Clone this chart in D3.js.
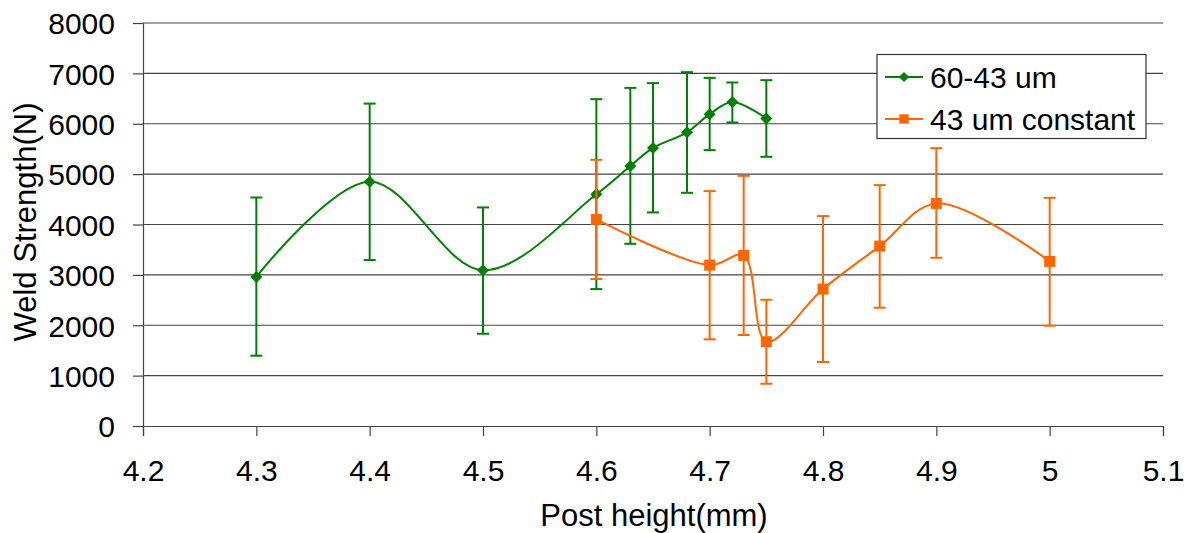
<!DOCTYPE html>
<html><head><meta charset="utf-8">
<script src="https://cdn.jsdelivr.net/npm/d3@7"></script>
<style>body{margin:0;background:#fff}svg text{font-family:"Liberation Sans",Arial,sans-serif;fill:#000}</style>
</head><body><svg id="c" width="1196" height="533"></svg>
<script>
const xTicks = [4.2,4.3,4.4,4.5,4.6,4.7,4.8,4.9,5,5.1];
const yTicks = [0,1000,2000,3000,4000,5000,6000,7000,8000];
const seriesNames = ["60-43 um","43 um constant"];
const greenX = [4.3,4.4,4.5,4.6,4.63,4.65,4.68,4.7,4.72,4.75];
const greenY = [2960,4850,3090,4600,5160,5520,5830,6190,6430,6105];
const greenHi = [4536,6400,4339,6488,6712,6806,7024,6911,6819,6865];
const greenLo = [1395,3294,1831,2718,3617,4240,4629,5476,6025,5344];
const orangeX = [4.6,4.7,4.73,4.75,4.8,4.85,4.9,5.0];
const orangeY = [4100,3194,3386,1673,2718,3571,4418,3267];
const orangeHi = [5284,4663,4966,2506,4167,4782,5516,4530];
const orangeLo = [2917,1720,1806,839,1270,2348,3340,1990];

const svg = d3.select("#c");
const L=143,R=1163,T=23,B=426;
const x = d3.scaleLinear().domain([4.2,5.1]).range([L,R]);
const y = d3.scaleLinear().domain([0,8000]).range([B,T]);

// gridlines
svg.append("g").selectAll("line").data(yTicks.filter(d=>d>0)).join("line")
  .attr("x1",L).attr("x2",R).attr("y1",d=>y(d)).attr("y2",d=>y(d))
  .attr("stroke","#444").attr("stroke-width",1.2);

// axes
const yAxis = d3.axisLeft(y).tickValues(yTicks).tickSize(10).tickFormat(d3.format("d"));
const gy = svg.append("g").attr("transform",`translate(${L},0)`).call(yAxis);
gy.attr("font-size",30);
gy.select(".domain").attr("stroke","#444").attr("stroke-width",1.2);
gy.selectAll(".tick line").attr("stroke","#444").attr("stroke-width",1.2);
gy.selectAll("text").attr("font-size",30).attr("x",-28).attr("dy","0.36em");

const xAxis = d3.axisBottom(x).tickValues(xTicks).tickSize(10).tickFormat(d=>String(d));
const gx = svg.append("g").attr("transform",`translate(0,${B})`).call(xAxis);
gx.attr("font-size",30);
gx.select(".domain").attr("stroke","#444").attr("stroke-width",1.2);
gx.selectAll(".tick line").attr("stroke","#444").attr("stroke-width",1.2);
gx.selectAll("text").attr("font-size",30).attr("y",55).attr("dy",0);
svg.selectAll(".tick text").attr("font-family","Liberation Sans, Arial, sans-serif").attr("fill","#000");

svg.append("text").attr("x",654).attr("y",526).attr("text-anchor","middle").attr("font-size",31).text("Post height(mm)");
svg.append("text").attr("transform","translate(36,222) rotate(-90)").attr("text-anchor","middle").attr("font-size",31).text("Weld Strength(N)");

function drawSeries(xs,ys,hi,lo,color,marker){
  const g = svg.append("g");
  const pts = xs.map((v,i)=>({x:v,y:ys[i],hi:hi[i],lo:lo[i]}));
  g.selectAll("line.eb").data(pts).join("line").attr("class","eb")
    .attr("x1",d=>x(d.x)).attr("x2",d=>x(d.x)).attr("y1",d=>y(d.hi)).attr("y2",d=>y(d.lo))
    .attr("stroke",color).attr("stroke-width",2);
  ["hi","lo"].forEach(k=>{
    g.selectAll("line.c"+k).data(pts).join("line").attr("class","c"+k)
      .attr("x1",d=>x(d.x)-6).attr("x2",d=>x(d.x)+6).attr("y1",d=>y(d[k])).attr("y2",d=>y(d[k]))
      .attr("stroke",color).attr("stroke-width",2);
  });
  const line = d3.line().x(d=>x(d.x)).y(d=>y(d.y)).curve(d3.curveCatmullRom.alpha(0.5));
  g.append("path").datum(pts).attr("d",line).attr("fill","none").attr("stroke",color).attr("stroke-width",2);
  g.selectAll("path.m").data(pts).join("path").attr("class","m")
    .attr("transform",d=>`translate(${x(d.x)},${y(d.y)})`)
    .attr("d",marker).attr("fill",color);
}
const diamond = "M0,-6L6,0L0,6L-6,0Z";
const square = "M-5.5,-5.5H5.5V5.5H-5.5Z";
drawSeries(greenX,greenY,greenHi,greenLo,"#008000",diamond);
drawSeries(orangeX,orangeY,orangeHi,orangeLo,"#FF6600",square);

// legend
const lg = svg.append("g");
lg.append("rect").attr("x",877).attr("y",54.5).attr("width",269).attr("height",84)
  .attr("fill","#fff").attr("stroke","#333").attr("stroke-width",1.2);
const legItems = [{n:seriesNames[0],c:"#008000",m:diamond,yy:77},{n:seriesNames[1],c:"#FF6600",m:square,yy:119}];
legItems.forEach(d=>{
  lg.append("line").attr("x1",885).attr("x2",923).attr("y1",d.yy).attr("y2",d.yy).attr("stroke",d.c).attr("stroke-width",2);
  lg.append("path").attr("d",d.m).attr("transform",`translate(904,${d.yy}) scale(0.85)`).attr("fill",d.c);
  lg.append("text").attr("x",930).attr("y",d.yy).attr("dy","0.36em").attr("font-size",30).text(d.n);
});
</script></body></html>
